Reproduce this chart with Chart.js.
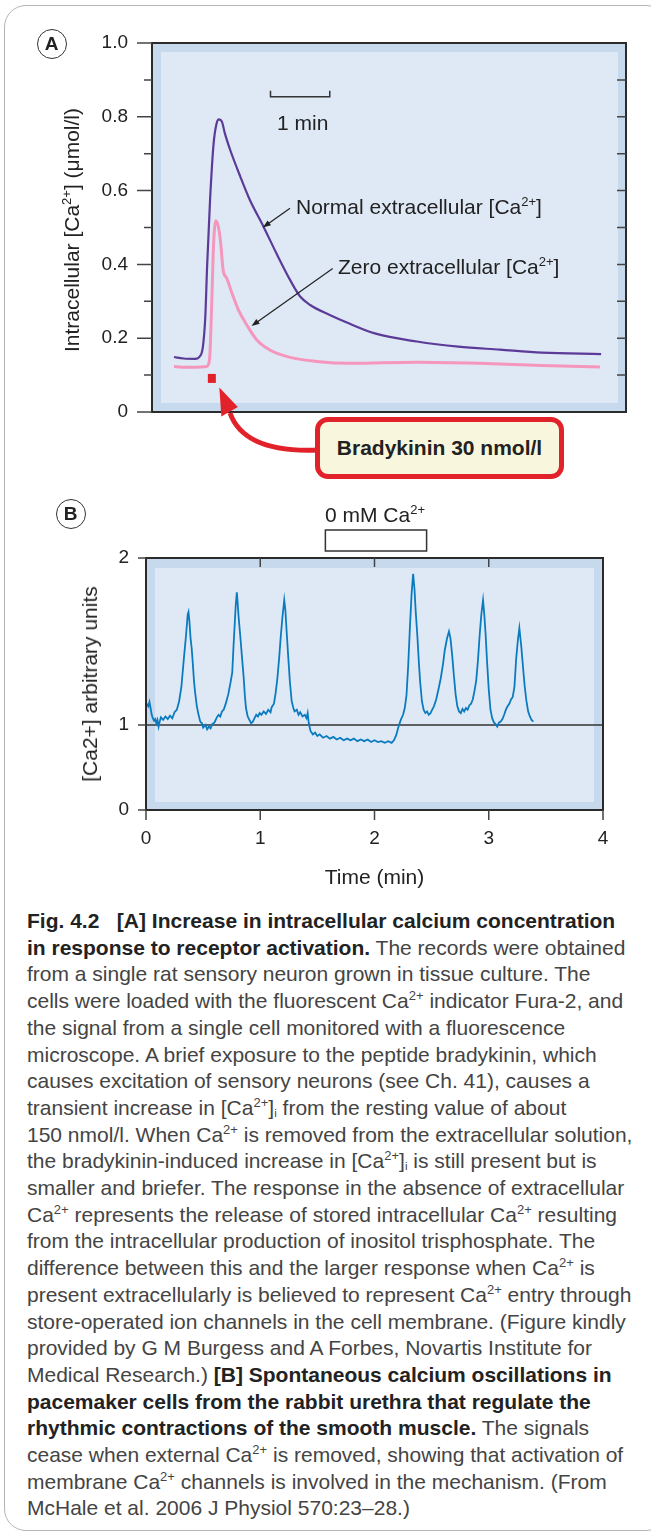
<!DOCTYPE html>
<html>
<head>
<meta charset="utf-8">
<script src="https://cdn.jsdelivr.net/npm/chart.js@4.4.1/dist/chart.umd.min.js"></script>
<style>
  html, body { margin: 0; padding: 0; background: #fff; }
  body { width: 651px; height: 1534px; position: relative; overflow: hidden;
         font-family: "Liberation Sans", Arial, sans-serif; color: #222; }
  .frame { position: absolute; left: 4px; top: 5px; width: 664px; height: 1526px;
           border: 1.5px solid #b4b4b4; border-radius: 22px; box-sizing: border-box; }
  canvas { position: absolute; left: 0; }
  #chartA { top: 0; }
  #chartB { top: 490px; }
  .lbl { position: absolute; white-space: nowrap; font-size: 21px; line-height: 24px; color: #222; }
  .mid { transform: translateY(-50%); }
  .ctr { transform: translate(-50%, -50%); }
  .rot { transform: translate(-50%, -50%) rotate(-90deg); }
  sup { font-size: 0.62em; line-height: 0; vertical-align: 0.62em; }
  sub { font-size: 0.55em; line-height: 0; vertical-align: -0.15em; }
  .circ { position: absolute; width: 28px; height: 28px; margin: -15.5px 0 0 -15.5px;
          border: 1.5px solid #333; border-radius: 50%; text-align: center;
          font-weight: bold; font-size: 19px; line-height: 28px; color: #222; }
  .brady { position: absolute; left: 315px; top: 417px; width: 249px; height: 62px;
           box-sizing: border-box; border: 5px solid #e2222b; border-radius: 13px;
           background: #f8f7dd; font-weight: bold; font-size: 21px; line-height: 52px;
           text-align: center; color: #222; }
  .caption { position: absolute; left: 27px; top: 908px; font-size: 21px; line-height: 26.7px;
             color: #444; white-space: nowrap; }
  .caption b { color: #222; }
</style>
</head>
<body>
<div class="frame"></div>
<canvas id="chartA" width="651" height="490"></canvas>
<canvas id="chartB" width="651" height="410"></canvas>

<div class="circ" style="left:52px; top:44px;">A</div>
<div class="circ" style="left:71px; top:514px;">B</div>

<div class="lbl rot" style="left:72px; top:230px;">Intracellular [Ca<sup>2+</sup>] (μmol/l)</div>
<div class="lbl mid" style="left:277px; top:123px;">1 min</div>
<div class="lbl mid" style="left:296px; top:207px;">Normal extracellular [Ca<sup>2+</sup>]</div>
<div class="lbl mid" style="left:338px; top:267px;">Zero extracellular [Ca<sup>2+</sup>]</div>
<div class="brady">Bradykinin 30 nmol/l</div>

<div class="lbl ctr" style="left:375px; top:515px;">0 mM Ca<sup>2+</sup></div>
<div class="lbl rot" style="left:90px; top:684px;">[Ca2+] arbitrary units</div>

<div class="caption">
<div><b>Fig. 4.2&nbsp;&nbsp;&nbsp;[A] Increase in intracellular calcium concentration</b></div>
<div><b>in response to receptor activation.</b> The records were obtained</div>
<div>from a single rat sensory neuron grown in tissue culture. The</div>
<div>cells were loaded with the fluorescent Ca<sup>2+</sup> indicator Fura-2, and</div>
<div>the signal from a single cell monitored with a fluorescence</div>
<div>microscope. A brief exposure to the peptide bradykinin, which</div>
<div>causes excitation of sensory neurons (see Ch. 41), causes a</div>
<div>transient increase in [Ca<sup>2+</sup>]<sub>i</sub> from the resting value of about</div>
<div>150 nmol/l. When Ca<sup>2+</sup> is removed from the extracellular solution,</div>
<div>the bradykinin-induced increase in [Ca<sup>2+</sup>]<sub>i</sub> is still present but is</div>
<div>smaller and briefer. The response in the absence of extracellular</div>
<div>Ca<sup>2+</sup> represents the release of stored intracellular Ca<sup>2+</sup> resulting</div>
<div>from the intracellular production of inositol trisphosphate. The</div>
<div>difference between this and the larger response when Ca<sup>2+</sup> is</div>
<div>present extracellularly is believed to represent Ca<sup>2+</sup> entry through</div>
<div>store-operated ion channels in the cell membrane. (Figure kindly</div>
<div>provided by G M Burgess and A Forbes, Novartis Institute for</div>
<div>Medical Research.) <b>[B] Spontaneous calcium oscillations in</b></div>
<div><b>pacemaker cells from the rabbit urethra that regulate the</b></div>
<div><b>rhythmic contractions of the smooth muscle.</b> The signals</div>
<div>cease when external Ca<sup>2+</sup> is removed, showing that activation of</div>
<div>membrane Ca<sup>2+</sup> channels is involved in the mechanism. (From</div>
<div>McHale et al. 2006 J Physiol 570:23–28.)</div>
</div>

<script>
// ---- Panel A data (time in min, [Ca2+]i in umol/l) ----
const A_TIME_NORMAL = [0.37, 0.53, 0.73, 0.81, 0.86, 0.9, 0.93, 0.98, 1.04, 1.09, 1.13, 1.18, 1.23, 1.32, 1.49, 1.65, 1.88, 2.1, 2.33, 2.5, 2.67, 3.0, 3.34, 3.76, 4.47, 5.17, 5.87, 6.58, 7.58];
const A_CA_NORMAL   = [0.149, 0.145, 0.144, 0.151, 0.178, 0.259, 0.394, 0.575, 0.728, 0.782, 0.793, 0.787, 0.755, 0.71, 0.638, 0.575, 0.503, 0.43, 0.358, 0.313, 0.29, 0.263, 0.239, 0.213, 0.191, 0.177, 0.169, 0.161, 0.157];
const A_TIME_ZERO = [0.37, 0.64, 0.92, 0.97, 1.01, 1.035, 1.075, 1.12, 1.16, 1.2, 1.26, 1.35, 1.46, 1.6, 1.77, 1.99, 2.33, 2.78, 3.34, 4.47, 5.52, 6.58, 7.56];
const A_CA_ZERO   = [0.123, 0.121, 0.123, 0.141, 0.304, 0.439, 0.518, 0.502, 0.457, 0.385, 0.363, 0.322, 0.276, 0.236, 0.195, 0.168, 0.148, 0.137, 0.132, 0.135, 0.132, 0.126, 0.122];
const A_Y_MIN = 0, A_Y_MAX = 1, A_X_MAX = 8;
const SCALE_BAR = [2.0, 3.0];      // 1 min bar
const BRADYKINININ_AT = 1.01;      // application time (min)

// ---- Panel B data (time in min, signal in axis units) ----
const B_TIME = [0, 0.02, 0.03, 0.04, 0.05, 0.06, 0.07, 0.08, 0.09, 0.1, 0.11, 0.12, 0.13, 0.15, 0.17, 0.19, 0.21, 0.23, 0.25, 0.27, 0.29, 0.31, 0.33, 0.35, 0.365, 0.372, 0.38, 0.39, 0.4, 0.41, 0.42, 0.43, 0.445, 0.46, 0.475, 0.49, 0.5, 0.52, 0.535, 0.55, 0.565, 0.58, 0.6, 0.62, 0.635, 0.65, 0.665, 0.68, 0.7, 0.72, 0.74, 0.755, 0.765, 0.775, 0.785, 0.795, 0.8, 0.81, 0.825, 0.84, 0.855, 0.865, 0.875, 0.89, 0.905, 0.92, 0.935, 0.95, 0.965, 0.98, 0.995, 1.01, 1.03, 1.05, 1.07, 1.09, 1.1, 1.12, 1.135, 1.15, 1.165, 1.18, 1.195, 1.21, 1.22, 1.23, 1.245, 1.26, 1.275, 1.29, 1.3, 1.32, 1.335, 1.35, 1.37, 1.39, 1.405, 1.415, 1.425, 1.44, 1.46, 1.48, 1.5, 1.52, 1.55, 1.58, 1.61, 1.64, 1.67, 1.7, 1.73, 1.76, 1.79, 1.82, 1.85, 1.88, 1.91, 1.94, 1.97, 2.0, 2.03, 2.06, 2.09, 2.12, 2.15, 2.17, 2.19, 2.21, 2.23, 2.25, 2.265, 2.28, 2.295, 2.31, 2.325, 2.338, 2.35, 2.36, 2.375, 2.39, 2.4, 2.415, 2.43, 2.445, 2.46, 2.475, 2.49, 2.505, 2.52, 2.54, 2.56, 2.58, 2.6, 2.615, 2.635, 2.652, 2.665, 2.68, 2.695, 2.71, 2.725, 2.74, 2.755, 2.77, 2.785, 2.8, 2.815, 2.83, 2.845, 2.86, 2.875, 2.89, 2.905, 2.92, 2.935, 2.95, 2.96, 2.972, 2.985, 3.0, 3.015, 3.03, 3.045, 3.06, 3.075, 3.09, 3.105, 3.12, 3.135, 3.15, 3.165, 3.18, 3.195, 3.21, 3.225, 3.24, 3.255, 3.268, 3.275, 3.285, 3.3, 3.315, 3.33, 3.345, 3.36, 3.375, 3.39];
const B_SIGNAL = [1.26, 1.22, 1.27, 1.2, 1.12, 1.08, 1.05, 1.07, 1.02, 1.06, 0.98, 1.04, 1.09, 1.06, 1.1, 1.07, 1.11, 1.08, 1.15, 1.18, 1.28, 1.45, 1.76, 2.05, 2.3, 2.33, 2.22, 2.02, 1.9, 1.72, 1.52, 1.38, 1.22, 1.12, 1.04, 1.02, 0.97, 1.0, 0.95, 0.98, 0.96, 1.01, 1.03, 1.09, 1.12, 1.1, 1.16, 1.18, 1.26, 1.36, 1.5, 1.62, 1.9, 2.15, 2.4, 2.56, 2.48, 2.28, 2.05, 1.8, 1.56, 1.35, 1.2, 1.1, 1.06, 1.02, 1.04, 1.08, 1.12, 1.1, 1.14, 1.12, 1.16, 1.13, 1.18, 1.15, 1.21, 1.25, 1.38, 1.55, 1.78, 2.05, 2.28, 2.47, 2.35, 2.12, 1.8, 1.5, 1.28, 1.2, 1.16, 1.18, 1.12, 1.15, 1.1, 1.12, 1.08, 1.14, 1.02, 0.93, 0.89, 0.91, 0.87, 0.89, 0.85, 0.87, 0.84, 0.86, 0.83, 0.85, 0.82, 0.84, 0.82, 0.84, 0.81, 0.83, 0.81, 0.83, 0.8, 0.82, 0.8, 0.81, 0.79, 0.81, 0.79, 0.82, 0.88, 0.98, 1.06, 1.12, 1.2, 1.35, 1.7, 2.15, 2.55, 2.78, 2.6, 2.35, 2.05, 1.7, 1.5, 1.28, 1.18, 1.14, 1.16, 1.12, 1.14, 1.18, 1.22, 1.3, 1.42, 1.55, 1.72, 1.88, 2.02, 2.1, 2.02, 1.82, 1.58, 1.36, 1.22, 1.16, 1.14, 1.19, 1.16, 1.2, 1.18, 1.23, 1.25, 1.3, 1.4, 1.52, 1.75, 2.05, 2.3, 2.47, 2.32, 2.08, 1.75, 1.42, 1.18, 1.08, 1.03, 1.01, 0.98, 1.03, 1.04, 1.07, 1.12, 1.18, 1.22, 1.25, 1.3, 1.33, 1.45, 1.78, 2.0, 2.14, 2.05, 1.92, 1.68, 1.45, 1.28, 1.16, 1.1, 1.06, 1.04];
const B_Y_TICK_VALUES = [0, 1, 2.965];
const B_Y_TICK_LABELS = ['0', '1', '2'];
const B_X_MAX = 4;
const CA_FREE = [1.57, 2.456];      // 0 mM Ca2+ period (min)

// colours
const BAND = '#c6d9ed';
const INNER = '#dfe9f5';
const EDGE = '#2b2b2b';
const RED = '#e2222b';

Chart.defaults.font.family = '"Liberation Sans", Arial, sans-serif';
Chart.defaults.color = '#222';

const toXY = (xs, ys) => xs.map((x, i) => ({ x: x, y: ys[i] }));

function drawArrow(ctx, x1, y1, x2, y2, len, half) {
  const ang = Math.atan2(y2 - y1, x2 - x1);
  ctx.beginPath();
  ctx.moveTo(x1, y1);
  ctx.lineTo(x2 - Math.cos(ang) * len * 0.6, y2 - Math.sin(ang) * len * 0.6);
  ctx.stroke();
  ctx.beginPath();
  ctx.moveTo(x2, y2);
  ctx.lineTo(x2 - Math.cos(ang) * len + Math.sin(ang) * half, y2 - Math.sin(ang) * len - Math.cos(ang) * half);
  ctx.lineTo(x2 - Math.cos(ang) * len - Math.sin(ang) * half, y2 - Math.sin(ang) * len + Math.cos(ang) * half);
  ctx.closePath();
  ctx.fill();
}

function fillPanel(chart, inset) {
  const { ctx, chartArea: a } = chart;
  ctx.save();
  ctx.fillStyle = BAND;
  ctx.fillRect(a.left, a.top, a.width, a.height);
  ctx.fillStyle = INNER;
  ctx.fillRect(a.left + inset[0], a.top + inset[1], a.width - inset[0] - inset[2], a.height - inset[1] - inset[3]);
  ctx.restore();
}

// Panel A frame, ticks and annotations
const panelA = {
  id: 'panelA',
  beforeDatasetsDraw(chart) { fillPanel(chart, [9, 9, 8, 9]); },
  afterDatasetsDraw(chart) {
    const { ctx, chartArea: a, scales: { x, y } } = chart;
    ctx.save();
    ctx.strokeStyle = EDGE;
    ctx.lineWidth = 2;
    ctx.strokeRect(a.left, a.top, a.width, a.height);

    ctx.lineWidth = 1.5;
    ctx.strokeStyle = '#444';
    y.ticks.forEach(t => {
      const py = y.getPixelForValue(t.value);
      const major = Math.round(t.value * 10) % 2 === 0;
      ctx.beginPath();
      ctx.moveTo(a.left - (major ? 15 : 8), py);
      ctx.lineTo(a.left, py);
      if (t.value > 0.05 && t.value < 0.95) {
        ctx.moveTo(a.right - 9, py);
        ctx.lineTo(a.right, py);
      }
      ctx.stroke();
    });

    // 1 min scale bar
    const bx0 = x.getPixelForValue(SCALE_BAR[0]);
    const bx1 = x.getPixelForValue(SCALE_BAR[1]);
    const by = y.getPixelForValue(0.854);
    ctx.strokeStyle = '#333';
    ctx.lineWidth = 1.5;
    ctx.beginPath();
    ctx.moveTo(bx0, by - 6); ctx.lineTo(bx0, by); ctx.lineTo(bx1, by); ctx.lineTo(bx1, by - 6);
    ctx.stroke();

    // label arrows
    ctx.strokeStyle = '#222';
    ctx.fillStyle = '#222';
    ctx.lineWidth = 1.2;
    drawArrow(ctx, x.getPixelForValue(2.33), y.getPixelForValue(0.552), x.getPixelForValue(1.87), y.getPixelForValue(0.5), 8, 3);
    drawArrow(ctx, x.getPixelForValue(3.05), y.getPixelForValue(0.389), x.getPixelForValue(1.68), y.getPixelForValue(0.233), 8, 3);

    // bradykinin application marker
    const sx = x.getPixelForValue(BRADYKINININ_AT);
    const sy = y.getPixelForValue(0.091);
    ctx.fillStyle = RED;
    ctx.fillRect(sx - 4, sy - 4.5, 8, 9);

    // red curved arrow from the label box
    ctx.strokeStyle = RED;
    ctx.lineWidth = 5;
    ctx.beginPath();
    ctx.moveTo(318, 450);
    ctx.bezierCurveTo(272, 452, 240, 441, 230, 413);
    ctx.stroke();
    ctx.beginPath();
    ctx.moveTo(sx + 7.5, sy + 9);
    ctx.lineTo(sx + 9.5, sy + 38);
    ctx.lineTo(sx + 26, sy + 28.5);
    ctx.closePath();
    ctx.fill();
    ctx.restore();
  }
};

// Panel B frame and ticks
const panelB = {
  id: 'panelB',
  beforeDatasetsDraw(chart) {
    fillPanel(chart, [9, 10, 9, 8]);
    const { ctx, chartArea: a, scales: { y } } = chart;
    const py = y.getPixelForValue(1);
    ctx.save();
    ctx.strokeStyle = '#333';
    ctx.lineWidth = 1.3;
    ctx.beginPath();
    ctx.moveTo(a.left, py); ctx.lineTo(a.right, py);
    ctx.stroke();
    ctx.restore();
  },
  afterDatasetsDraw(chart) {
    const { ctx, chartArea: a, scales: { x, y } } = chart;
    ctx.save();
    ctx.strokeStyle = EDGE;
    ctx.lineWidth = 2;
    ctx.strokeRect(a.left, a.top, a.width, a.height);
    ctx.lineWidth = 1.5;
    ctx.strokeStyle = '#444';
    ctx.beginPath();
    y.ticks.forEach(t => {
      const py = y.getPixelForValue(t.value);
      ctx.moveTo(a.left - 8, py); ctx.lineTo(a.left, py);
    });
    x.ticks.forEach(t => {
      const px = x.getPixelForValue(t.value);
      ctx.moveTo(px, a.bottom); ctx.lineTo(px, a.bottom + 10);
      if (t.value > 0 && t.value < B_X_MAX) {
        ctx.moveTo(px, a.top); ctx.lineTo(px, a.top + 9);
      }
    });
    ctx.stroke();

    // 0 mM Ca2+ bar above the record
    const x0 = x.getPixelForValue(CA_FREE[0]);
    const x1 = x.getPixelForValue(CA_FREE[1]);
    ctx.fillStyle = '#fff';
    ctx.fillRect(x0, a.top - 28, x1 - x0, 21);
    ctx.strokeStyle = '#333';
    ctx.lineWidth = 1.5;
    ctx.strokeRect(x0, a.top - 28, x1 - x0, 21);
    ctx.restore();
  }
};

const chartA = new Chart(document.getElementById('chartA'), {
  type: 'line',
  data: {
    datasets: [
      {
        label: 'Zero extracellular [Ca2+]',
        data: toXY(A_TIME_ZERO, A_CA_ZERO),
        borderColor: '#f596bd',
        borderWidth: 3,
        pointRadius: 0,
        cubicInterpolationMode: 'monotone',
        fill: false,
      },
      {
        label: 'Normal extracellular [Ca2+]',
        data: toXY(A_TIME_NORMAL, A_CA_NORMAL),
        borderColor: '#5b3a98',
        borderWidth: 2.2,
        pointRadius: 0,
        cubicInterpolationMode: 'monotone',
        fill: false,
      },
    ],
  },
  options: {
    responsive: false,
    animation: false,
    layout: { padding: { left: 0, top: 43, right: 25, bottom: 78 } },
    plugins: { legend: { display: false }, tooltip: { enabled: false } },
    scales: {
      x: { type: 'linear', display: false, min: 0, max: A_X_MAX },
      y: {
        min: A_Y_MIN,
        max: A_Y_MAX,
        afterFit: (s) => { s.width = 152; },
        grid: { display: false, drawTicks: false },
        border: { display: false },
        ticks: {
          stepSize: 0.1,
          autoSkip: false,
          padding: 24,
          color: '#222',
          font: { size: 19 },
          callback: (v) => {
            const r = Math.round(v * 10);
            if (r % 2) return '';
            return r === 0 ? '0' : (r / 10).toFixed(1);
          },
        },
      },
    },
  },
  plugins: [panelA],
});

const chartB = new Chart(document.getElementById('chartB'), {
  type: 'line',
  data: {
    datasets: [
      {
        label: '[Ca2+]',
        data: toXY(B_TIME, B_SIGNAL),
        borderColor: '#0b7bc0',
        borderWidth: 1.8,
        pointRadius: 0,
        tension: 0,
        fill: false,
      },
    ],
  },
  options: {
    responsive: false,
    animation: false,
    layout: { padding: { left: 0, top: 68, right: 48, bottom: 0 } },
    plugins: { legend: { display: false }, tooltip: { enabled: false } },
    scales: {
      x: {
        type: 'linear',
        min: 0,
        max: B_X_MAX,
        afterFit: (s) => { s.height = 90; },
        grid: { display: false, drawTicks: false },
        border: { display: false },
        ticks: { stepSize: 1, padding: 17, color: '#222', font: { size: 19 } },
        title: {
          display: true,
          text: 'Time (min)',
          color: '#222',
          font: { size: 21 },
          padding: { top: 0, bottom: 9.5 },
        },
      },
      y: {
        min: 0,
        max: B_Y_TICK_VALUES[2],
        afterFit: (s) => { s.width = 146; },
        afterBuildTicks: (s) => { s.ticks = B_Y_TICK_VALUES.map(v => ({ value: v })); },
        grid: { display: false, drawTicks: false },
        border: { display: false },
        ticks: {
          autoSkip: false,
          padding: 17,
          color: '#222',
          font: { size: 19 },
          callback: (v, i) => B_Y_TICK_LABELS[i],
        },
      },
    },
  },
  plugins: [panelB],
});
</script>
</body>
</html>
